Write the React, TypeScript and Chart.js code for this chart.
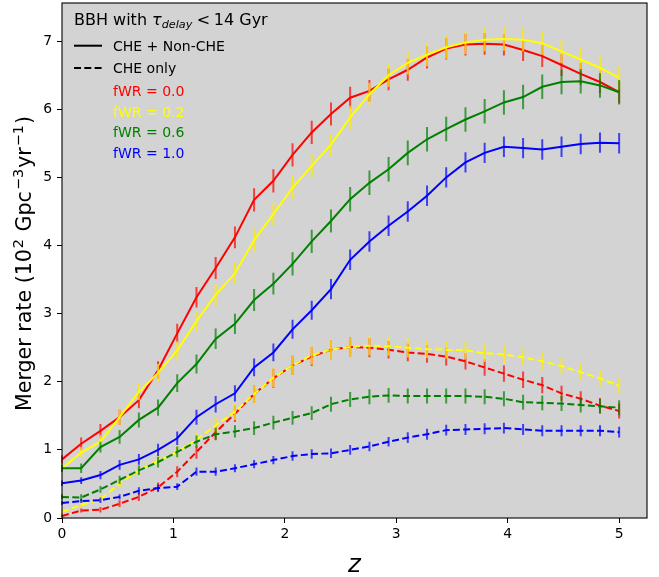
import React, { useEffect, useRef } from 'react';
import { Chart, registerables } from 'chart.js';

Chart.register(...registerables);

const FONT = "'DejaVu Sans', sans-serif";

// Redshift grid (30 points from 0 to 5)
const zValues = [
  0, 0.172, 0.345, 0.517, 0.69, 0.862, 1.034, 1.207, 1.379, 1.552,
  1.724, 1.897, 2.069, 2.241, 2.414, 2.586, 2.759, 2.931, 3.103, 3.276,
  3.448, 3.621, 3.793, 3.966, 4.138, 4.31, 4.483, 4.655, 4.828, 5.0,
];

const xTicks = [0, 1, 2, 3, 4, 5];
const yTicks = [0, 1, 2, 3, 4, 5, 6, 7];
const X_MIN = 0;
const X_MAX = 5.25;
const Y_MIN = 0;
const Y_MAX = 7.56;

const fwrLabels = ['fWR = 0.0', 'fWR = 0.2', 'fWR = 0.6', 'fWR = 1.0'];
const fwrColors = ['#ff0000', '#ffff00', '#008000', '#0000ff'];
const fwrErrColors = ['rgba(255,0,0,0.7)', 'rgba(255,235,0,0.75)', 'rgba(0,128,0,0.7)', 'rgba(0,0,255,0.7)'];

const titleMain = 'BBH with ';
const titleTau = 'τ';
const titleSub = 'delay';
const titleRel = '<';
const titleRest = '14 Gyr';
const legendSolid = 'CHE + Non-CHE';
const legendDashed = 'CHE only';
const xTitle = 'z';

// CHE + Non-CHE (solid)
const allFwr00 = [0.86, 1.09, 1.28, 1.48, 1.73, 2.17, 2.71, 3.24, 3.67, 4.12, 4.67, 4.95, 5.33, 5.66, 5.93, 6.17, 6.27, 6.44, 6.58, 6.76, 6.89, 6.95, 6.96, 6.95, 6.87, 6.78, 6.65, 6.52, 6.40, 6.25];
const allFwr02 = [0.73, 0.96, 1.12, 1.48, 1.85, 2.13, 2.46, 2.89, 3.28, 3.59, 4.08, 4.46, 4.85, 5.17, 5.48, 5.88, 6.22, 6.50, 6.68, 6.80, 6.91, 6.98, 7.02, 7.03, 7.02, 6.97, 6.85, 6.73, 6.61, 6.46];
const allFwr06 = [0.73, 0.73, 1.04, 1.19, 1.44, 1.62, 1.98, 2.26, 2.63, 2.85, 3.20, 3.44, 3.73, 4.06, 4.36, 4.68, 4.92, 5.12, 5.36, 5.56, 5.71, 5.85, 5.97, 6.10, 6.18, 6.33, 6.40, 6.41, 6.35, 6.25];
const allFwr10 = [0.51, 0.55, 0.63, 0.78, 0.86, 1.00, 1.17, 1.48, 1.67, 1.83, 2.21, 2.43, 2.77, 3.05, 3.36, 3.79, 4.06, 4.29, 4.50, 4.73, 5.00, 5.22, 5.36, 5.45, 5.43, 5.41, 5.45, 5.49, 5.51, 5.50];

// CHE only (dashed)
const cheFwr00 = [0.03, 0.11, 0.12, 0.21, 0.31, 0.45, 0.68, 0.97, 1.26, 1.53, 1.82, 2.05, 2.24, 2.37, 2.47, 2.51, 2.50, 2.47, 2.43, 2.41, 2.37, 2.30, 2.21, 2.12, 2.03, 1.95, 1.83, 1.75, 1.65, 1.57];
const cheFwr02 = [0.09, 0.19, 0.27, 0.51, 0.70, 0.84, 0.97, 1.15, 1.36, 1.56, 1.82, 2.06, 2.24, 2.39, 2.47, 2.51, 2.53, 2.52, 2.50, 2.48, 2.47, 2.46, 2.42, 2.40, 2.36, 2.30, 2.23, 2.14, 2.05, 1.94];
const cheFwr06 = [0.31, 0.30, 0.42, 0.56, 0.70, 0.82, 0.97, 1.12, 1.23, 1.27, 1.32, 1.40, 1.47, 1.54, 1.67, 1.74, 1.78, 1.80, 1.79, 1.79, 1.79, 1.79, 1.78, 1.75, 1.70, 1.69, 1.68, 1.66, 1.64, 1.62];
const cheFwr10 = [0.22, 0.25, 0.26, 0.31, 0.40, 0.44, 0.46, 0.68, 0.68, 0.73, 0.79, 0.85, 0.91, 0.94, 0.95, 1.00, 1.05, 1.12, 1.18, 1.23, 1.29, 1.30, 1.31, 1.32, 1.30, 1.28, 1.28, 1.28, 1.28, 1.26];

// Error bar half-lengths
const allErr00 = [0.06, 0.09, 0.10, 0.11, 0.12, 0.13, 0.14, 0.15, 0.16, 0.16, 0.17, 0.17, 0.17, 0.17, 0.17, 0.16, 0.16, 0.16, 0.16, 0.16, 0.16, 0.16, 0.16, 0.16, 0.16, 0.16, 0.16, 0.16, 0.16, 0.16];
const allErr02 = [0.06, 0.08, 0.10, 0.11, 0.12, 0.13, 0.14, 0.15, 0.16, 0.16, 0.17, 0.17, 0.17, 0.17, 0.17, 0.17, 0.17, 0.17, 0.17, 0.17, 0.17, 0.17, 0.17, 0.17, 0.17, 0.17, 0.17, 0.17, 0.17, 0.17];
const allErr06 = [0.05, 0.07, 0.08, 0.10, 0.11, 0.12, 0.13, 0.14, 0.15, 0.15, 0.16, 0.16, 0.17, 0.17, 0.17, 0.18, 0.18, 0.18, 0.18, 0.18, 0.18, 0.18, 0.18, 0.18, 0.18, 0.18, 0.18, 0.18, 0.18, 0.18];
const allErr10 = [0.04, 0.05, 0.06, 0.07, 0.08, 0.09, 0.10, 0.11, 0.12, 0.12, 0.13, 0.13, 0.14, 0.14, 0.15, 0.15, 0.15, 0.15, 0.15, 0.15, 0.15, 0.15, 0.15, 0.15, 0.15, 0.15, 0.15, 0.15, 0.15, 0.15];
const cheErr00 = [0.02, 0.03, 0.04, 0.05, 0.06, 0.07, 0.08, 0.10, 0.11, 0.12, 0.13, 0.14, 0.14, 0.14, 0.14, 0.14, 0.14, 0.13, 0.13, 0.13, 0.13, 0.12, 0.12, 0.12, 0.12, 0.12, 0.11, 0.11, 0.11, 0.11];
const cheErr02 = [0.03, 0.04, 0.05, 0.06, 0.07, 0.08, 0.09, 0.10, 0.11, 0.12, 0.13, 0.14, 0.14, 0.14, 0.14, 0.14, 0.14, 0.14, 0.14, 0.13, 0.13, 0.13, 0.13, 0.13, 0.13, 0.13, 0.12, 0.12, 0.12, 0.12];
const cheErr06 = [0.04, 0.05, 0.05, 0.06, 0.07, 0.08, 0.08, 0.09, 0.09, 0.09, 0.10, 0.10, 0.10, 0.10, 0.11, 0.11, 0.11, 0.11, 0.11, 0.11, 0.11, 0.11, 0.11, 0.11, 0.11, 0.11, 0.11, 0.11, 0.11, 0.11];
const cheErr10 = [0.03, 0.03, 0.04, 0.04, 0.05, 0.05, 0.05, 0.06, 0.06, 0.06, 0.06, 0.06, 0.07, 0.07, 0.07, 0.07, 0.07, 0.07, 0.08, 0.08, 0.08, 0.08, 0.08, 0.08, 0.08, 0.08, 0.08, 0.08, 0.08, 0.08];

const seriesList = [
  { fwr: 0, dashed: false, values: allFwr00, errors: allErr00 },
  { fwr: 0, dashed: true, values: cheFwr00, errors: cheErr00 },
  { fwr: 1, dashed: false, values: allFwr02, errors: allErr02 },
  { fwr: 1, dashed: true, values: cheFwr02, errors: cheErr02 },
  { fwr: 2, dashed: false, values: allFwr06, errors: allErr06 },
  { fwr: 2, dashed: true, values: cheFwr06, errors: cheErr06 },
  { fwr: 3, dashed: false, values: allFwr10, errors: allErr10 },
  { fwr: 3, dashed: true, values: cheFwr10, errors: cheErr10 },
];

const DASH = [7, 3.3];

const backgroundPlugin = {
  id: 'bgPlot',
  beforeDraw(chart: any) {
    const { ctx, chartArea } = chart;
    ctx.save();
    ctx.fillStyle = '#ffffff';
    ctx.fillRect(0, 0, chart.width, chart.height);
    ctx.fillStyle = '#d3d3d3';
    ctx.fillRect(chartArea.left, chartArea.top, chartArea.right - chartArea.left, chartArea.bottom - chartArea.top);
    ctx.restore();
  },
};

const errorBarPlugin = {
  id: 'errorBars',
  beforeDatasetDraw(chart: any, args: any) {
    const ds = chart.data.datasets[args.index];
    const errs: number[] = ds.errors;
    if (!errs) return;
    const { ctx } = chart;
    const xs = chart.scales.x;
    const ys = chart.scales.y;
    ctx.save();
    ctx.strokeStyle = ds.errColor;
    ctx.lineWidth = 2;
    ctx.setLineDash([]);
    ctx.beginPath();
    ds.data.forEach((p: any, j: number) => {
      const px = xs.getPixelForValue(p.x);
      ctx.moveTo(px, ys.getPixelForValue(p.y - errs[j]));
      ctx.lineTo(px, ys.getPixelForValue(p.y + errs[j]));
    });
    ctx.stroke();
    ctx.restore();
  },
};

const annotationPlugin = {
  id: 'annotations',
  afterDraw(chart: any) {
    const { ctx, chartArea } = chart;
    ctx.save();
    // spines
    ctx.strokeStyle = '#000000';
    ctx.lineWidth = 1.1;
    ctx.setLineDash([]);
    ctx.strokeRect(chartArea.left, chartArea.top, chartArea.right - chartArea.left, chartArea.bottom - chartArea.top);

    ctx.fillStyle = '#000000';
    ctx.textBaseline = 'alphabetic';
    ctx.textAlign = 'left';

    // Legend title
    let x = chartArea.left + 12;
    const ty = 25;
    ctx.font = `16px ${FONT}`;
    ctx.fillText(titleMain, x, ty);
    x += ctx.measureText(titleMain).width;
    ctx.font = `italic 16px ${FONT}`;
    ctx.fillText(titleTau, x, ty);
    x += ctx.measureText(titleTau).width;
    ctx.font = `italic 11.2px ${FONT}`;
    ctx.fillText(titleSub, x, ty + 2.5);
    x += ctx.measureText(titleSub).width + 4.5;
    ctx.font = `16px ${FONT}`;
    ctx.fillText(titleRel, x, ty);
    x += ctx.measureText(titleRel).width + 3.6;
    ctx.fillText(titleRest, x, ty);

    // Legend handles
    const hx0 = chartArea.left + 12;
    const hx1 = hx0 + 28;
    const tx = chartArea.left + 51;
    ctx.strokeStyle = '#000000';
    ctx.lineWidth = 2;
    ctx.beginPath();
    ctx.moveTo(hx0, 45.7);
    ctx.lineTo(hx1, 45.7);
    ctx.stroke();
    ctx.setLineDash(DASH);
    ctx.beginPath();
    ctx.moveTo(hx0, 68);
    ctx.lineTo(hx1, 68);
    ctx.stroke();
    ctx.setLineDash([]);

    ctx.font = `14px ${FONT}`;
    ctx.fillText(legendSolid, tx, 51);
    ctx.fillText(legendDashed, tx, 73.3);
    const fy = [96, 116.7, 137.3, 158];
    fwrLabels.forEach((lab, i) => {
      ctx.fillStyle = fwrColors[i];
      ctx.fillText(lab, tx, fy[i]);
    });

    // x axis title
    ctx.fillStyle = '#000000';
    ctx.textAlign = 'center';
    ctx.font = `italic 24.5px ${FONT}`;
    ctx.fillText(xTitle, (chartArea.left + chartArea.right) / 2, 571.7);

    // y axis title with superscripts
    const pieces: [string, boolean][] = [
      ['Merger rate (10', false],
      ['2', true],
      [' Gpc', false],
      ['\u22123', true],
      ['yr', false],
      ['\u22121', true],
      [')', false],
    ];
    const mainF = `20.6px ${FONT}`;
    const supF = `14.4px ${FONT}`;
    const supGap = 1;
    let total = 0;
    pieces.forEach(([t, sup]) => {
      ctx.font = sup ? supF : mainF;
      total += ctx.measureText(t).width + (sup ? supGap * 2 : 0);
    });
    ctx.translate(31, (chartArea.top + chartArea.bottom) / 2 + 3);
    ctx.rotate(-Math.PI / 2);
    ctx.textAlign = 'left';
    let px = -total / 2;
    pieces.forEach(([t, sup]) => {
      ctx.font = sup ? supF : mainF;
      if (sup) px += supGap;
      ctx.fillText(t, px, sup ? -8.5 : 0);
      px += ctx.measureText(t).width + (sup ? supGap : 0);
    });
    ctx.restore();
  },
};

export default function App() {
  const canvasRef = useRef<HTMLCanvasElement | null>(null);

  useEffect(() => {
    const canvas = canvasRef.current;
    if (!canvas) return;
    const n = seriesList.length;
    const datasets = seriesList.map((s, i) => ({
      label: `${fwrLabels[s.fwr]} ${s.dashed ? legendDashed : legendSolid}`,
      data: zValues.map((z, j) => ({ x: z, y: s.values[j] })),
      borderColor: fwrColors[s.fwr],
      backgroundColor: fwrColors[s.fwr],
      borderWidth: 2,
      borderDash: s.dashed ? DASH : [],
      pointRadius: 0,
      pointHoverRadius: 0,
      fill: false,
      tension: 0,
      order: n - i,
      errors: s.errors,
      errColor: fwrErrColors[s.fwr],
    }));

    const chart = new Chart(canvas, {
      type: 'line',
      data: { datasets } as any,
      plugins: [backgroundPlugin, errorBarPlugin, annotationPlugin],
      options: {
        animation: false,
        responsive: false,
        devicePixelRatio: 1,
        layout: { padding: { top: 3, right: 12, left: 0, bottom: 0 } },
        plugins: { legend: { display: false }, tooltip: { enabled: false }, title: { display: false } },
        events: [],
        scales: {
          x: {
            type: 'linear',
            min: X_MIN,
            max: X_MAX,
            afterBuildTicks: (scale: any) => {
              scale.ticks = xTicks.map((v) => ({ value: v }));
            },
            afterFit: (scale: any) => {
              scale.height = 59;
              scale.paddingLeft = 0;
              scale.paddingRight = 0;
            },
            border: { display: false },
            grid: { drawOnChartArea: false, drawTicks: true, tickLength: 5, color: '#000000', lineWidth: 1 },
            ticks: {
              font: { family: FONT, size: 13.9 },
              color: '#000000',
              padding: 3,
              maxRotation: 0,
              autoSkip: false,
              callback: (v: any) => String(v),
            },
          },
          y: {
            type: 'linear',
            min: Y_MIN,
            max: Y_MAX,
            afterBuildTicks: (scale: any) => {
              scale.ticks = yTicks.map((v) => ({ value: v }));
            },
            afterFit: (scale: any) => {
              scale.width = 62;
              scale.paddingTop = 0;
              scale.paddingBottom = 0;
            },
            border: { display: false },
            grid: { drawOnChartArea: false, drawTicks: true, tickLength: 5, color: '#000000', lineWidth: 1 },
            ticks: {
              font: { family: FONT, size: 13.9 },
              color: '#000000',
              padding: 5,
              autoSkip: false,
              callback: (v: any) => String(v),
            },
          },
        },
      } as any,
    });
    return () => chart.destroy();
  }, []);

  return (
    <div style={{ position: 'absolute', left: 0, top: 0, width: 659, height: 577, background: '#ffffff' }}>
      <canvas ref={canvasRef} width={659} height={577} style={{ display: 'block', width: 659, height: 577 }} />
    </div>
  );
}
